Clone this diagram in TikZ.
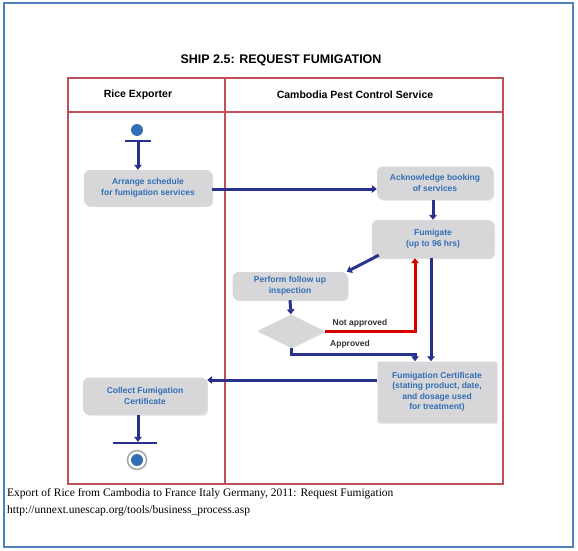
\documentclass[tikz,border=0pt]{standalone}
\usepackage{fontspec}
\setmainfont{Liberation Serif}
\newfontfamily\diagfont{Liberation Sans}
\usetikzlibrary{arrows.meta, shapes.geometric, shadows}

\definecolor{framblue}{RGB}{79,129,189}
\definecolor{poolred}{RGB}{192,80,90}
\definecolor{flowblue}{RGB}{40,50,140}
\definecolor{textblue}{RGB}{50,110,180}
\definecolor{boxgray}{RGB}{215,215,218}

\tikzset{
    actbox/.style={rounded corners=6pt, fill=boxgray, align=center,
        text=textblue, font=\diagfont\bfseries\fontsize{8.5}{10.5}\selectfont,
        inner sep=1pt, drop shadow={shadow xshift=1.2pt, shadow yshift=-1.2pt, opacity=0.25}},
    decision/.style={diamond, fill=boxgray, inner sep=0pt,
        drop shadow={shadow xshift=1.2pt, shadow yshift=-1.2pt, opacity=0.25}},
    flow/.style={draw=flowblue, line width=3pt, -{Triangle[length=5pt, width=7.5pt]}},
    rejectflow/.style={draw=red!85!black, line width=3pt, -{Triangle[length=5pt, width=7.5pt]}},
    guard/.style={font=\diagfont\bfseries\fontsize{8.5}{9}\selectfont, text=black!80},
}

\begin{document}
\begin{tikzpicture}[x=1pt, y=-1pt]
    % rahmen und bahnen
    \useasboundingbox (0,0) rectangle (578,551);
    \draw[framblue, line width=2pt] (4,3) rectangle (573,547);
    \draw[poolred, line width=1.6pt] (68,78) rectangle (503,484);
    \draw[poolred, line width=1.6pt] (225,78) -- (225,484);
    \draw[poolred, line width=1.6pt] (68,112) -- (503,112);

    \node[font=\diagfont\bfseries\fontsize{12.5}{14}\selectfont] (title) at (281,60) {SHIP 2.5: REQUEST FUMIGATION};
    \node[font=\diagfont\bfseries\fontsize{10.5}{12}\selectfont] (laneexp) at (138,95) {Rice Exporter};
    \node[font=\diagfont\bfseries\fontsize{10.5}{12}\selectfont] (lanepcs) at (355,95) {Cambodia Pest Control Service};

    % start
    \node[circle, fill=textblue, minimum size=12pt, inner sep=0pt] (start) at (137,130) {};
    \node[fill=flowblue, minimum width=26pt, minimum height=1.8pt, inner sep=0pt] (startbar) at (138,141) {};

    % aktivitaeten
    \node[actbox, minimum width=128pt, minimum height=36pt] (arrange) at (148,188) {Arrange schedule\\for fumigation services};
    \node[actbox, minimum width=116pt, minimum height=33pt] (ack) at (435,183) {Acknowledge booking\\of services};
    \node[actbox, minimum width=122pt, minimum height=38pt] (fumigate) at (433,239) {Fumigate\\(up to 96 hrs)};
    \node[actbox, minimum width=115pt, minimum height=28pt] (inspect) at (290,286) {Perform follow up\\inspection};
    \node[decision, minimum width=67pt, minimum height=33pt] (decide) at (291,331) {};
    \node[actbox, rounded corners=1pt, minimum width=119pt, minimum height=61pt] (cert) at (437,392)
        {Fumigation Certificate\\(stating product, date,\\and dosage used\\for treatment)};
    \node[actbox, minimum width=124pt, minimum height=37pt] (collect) at (145,396) {Collect Fumigation\\Certificate};

    % ende
    \node[fill=flowblue, minimum width=44pt, minimum height=1.8pt, inner sep=0pt] (endbar) at (135,443) {};
    \node[circle, draw=gray!70, fill=white, line width=1.5pt, minimum size=19pt, inner sep=0pt] (finish) at (137,460) {};
    \node[circle, fill=textblue, minimum size=12pt, inner sep=0pt] (finishdot) at (finish) {};

    % verbindungen
    \draw[flow] (startbar) -- (startbar |- arrange.north);
    \draw[flow] ([yshift=-1pt]arrange.east) -- ([yshift=-1pt]arrange.east -| ack.west);
    \draw[flow] ([xshift=-2pt]ack.south) -- ([xshift=-2pt]ack.south |- fumigate.north);
    \draw[flow] ([xshift=7pt, yshift=3pt]fumigate.south west) -- ([xshift=-1pt]inspect.north east);
    \draw[flow] (inspect.south) -- (decide.north);
    \draw[rejectflow] (decide.east) -| ([xshift=-18pt]fumigate.south);
    \draw[flow] (decide.south) -- ++(0,7) -| ([xshift=-22pt]cert.north);
    \draw[flow] ([xshift=-2pt]fumigate.south) -- ([xshift=-6pt]cert.north);
    \draw[flow] ([yshift=12pt]cert.west) -- ([yshift=12pt]cert.west -| collect.east);
    \draw[flow] (collect.south -| startbar) -- (endbar.north -| startbar);

    \node[guard] (notok) at (360,323) {Not approved};
    \node[guard] (ok) at (350,344) {Approved};

    % quelle
    \node[anchor=west, font=\fontsize{11.5}{13}\selectfont, inner sep=0pt] (src) at (7,494)
        {Export of Rice from Cambodia to France Italy Germany, 2011: Request Fumigation};
    \node[anchor=west, font=\fontsize{11.5}{13}\selectfont, inner sep=0pt] (url) at (7,511)
        {http://unnext.unescap.org/tools/business\_process.asp};
\end{tikzpicture}
\end{document}
